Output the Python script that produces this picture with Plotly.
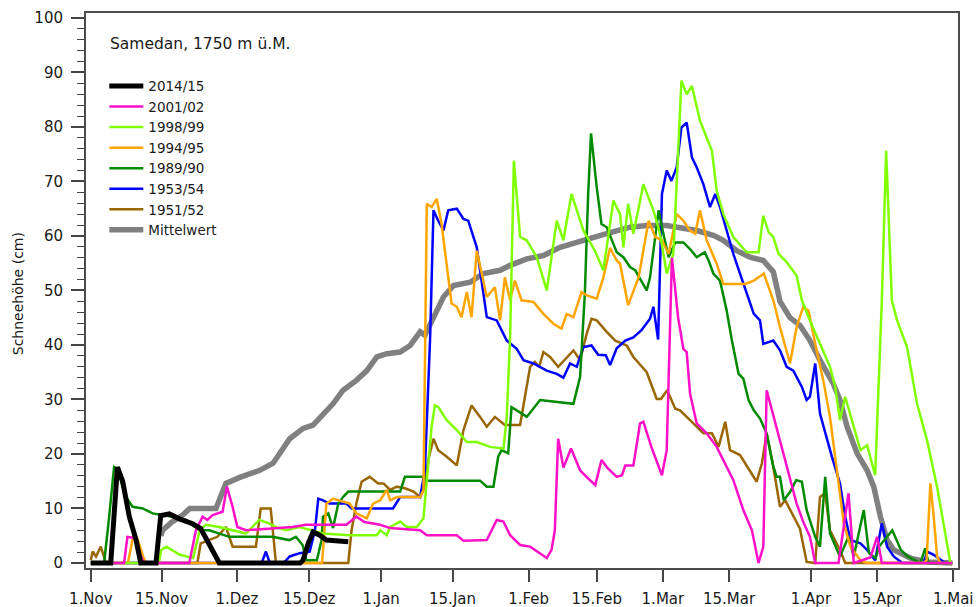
import plotly.graph_objects as go

# x positions are days since 1 November
tick_days = [0, 14.9, 30.7, 45.9, 61.0, 76.0, 92.0, 106.3, 120.2, 134.1, 151.3, 165.2, 181.2]
tick_labels = ["1.Nov", "15.Nov", "1.Dez", "15.Dez", "1.Jan", "15.Jan", "1.Feb",
               "15.Feb", "1.Mar", "15.Mar", "1.Apr", "15.Apr", "1.Mai"]

mittelwert = [(14.7, 5.0), (15.1, 6), (17, 7.5), (19.3, 8.8), (20.8, 10),
              (26.3, 10), (28.4, 14.6), (31.3, 15.7), (35.5, 17), (38.3, 18.3), (41.8, 22.8),
              (44.6, 24.7), (46.7, 25.3), (48.8, 27.4), (50.9, 29.2), (53.0, 31.7), (55.8, 33.5),
              (58.0, 35.3), (60.1, 37.8), (62.2, 38.4), (65.0, 38.7), (67.1, 39.9), (69.2, 42.4),
              (70.2, 41.8), (72.0, 45.1), (74.1, 48.8), (76.2, 50.9), (79.7, 51.5), (82.5, 53.1),
              (86.0, 53.7), (88.1, 54.6), (91.6, 55.8), (95.1, 56.4), (98.6, 57.9), (102.1, 58.8),
              (105.6, 59.8), (109.1, 60.6), (113.3, 61.6), (116.8, 61.9), (121.0, 61.9),
              (123.8, 61.6), (127.3, 61.0), (130.8, 60.1), (132.9, 59.2), (135.7, 57.3),
              (138.5, 56.1), (141.3, 55.5), (143.4, 53.4), (144.8, 48.0), (146.9, 45.0),
              (149.0, 43.6), (151.1, 40.8), (153.2, 37.2), (156.0, 32.9), (157.4, 29.9),
              (158.9, 25.0), (161.0, 20.1), (163.1, 17.0), (164.5, 14.0), (165.9, 8.5),
              (167.3, 4.2), (168.7, 2.4), (172.2, 0.9), (175.7, 0.2), (181, 0)]

s2014_15 = [(0, 0), (4.2, 0), (5.6, 17.6), (6.7, 15.0), (8.1, 8.5), (9.5, 4.3), (10.5, 0), (13.7, 0),
            (14.7, 8.7), (16.5, 9.0), (18.6, 8.1), (21.4, 7.2), (23.1, 6.3), (24.9, 3.3), (27.0, 0),
            (44.0, 0), (44.6, 0.5), (45.7, 3.6), (46.7, 5.7), (48.1, 5.1), (49.5, 4.2), (54.1, 3.9)]

s2001_02 = [(0, 0), (7.0, 0), (7.7, 4.8), (9.1, 4.6), (10.2, 1.8), (11.2, 0), (20.7, 0), (22.1, 6.0),
            (23.5, 8.5), (24.5, 7.9), (25.6, 8.8), (27.7, 9.4), (28.6, 14.0), (29.8, 10.3), (30.8, 6.6),
            (32.6, 6.0), (42.4, 6.6), (45.2, 7.0), (53.7, 7.0), (55.8, 8.5), (57.5, 7.5), (60.8, 7.0),
            (62.9, 6.4), (69.2, 6.0), (70.6, 5.1), (76.9, 5.1), (78.3, 4.1), (83.2, 4.2), (85.3, 7.9),
            (86.7, 7.6), (88.1, 5.1), (90.2, 3.3), (92.3, 3.0), (93.7, 2.1), (95.8, 0.9), (96.8, 2.4),
            (97.5, 6.0), (98.2, 22.8), (99.3, 17.5), (100.9, 21.0), (102.8, 17.0), (104.5, 15.5),
            (106.0, 14.3), (107.3, 18.9), (108.5, 17.5), (110.5, 15.8), (111.6, 16.1), (112.3, 17.9),
            (114.0, 17.9), (115.4, 25.6), (116.1, 25.9), (117.9, 21.0), (120.0, 16.1), (121.0, 20.7),
            (122.1, 56.0), (123.4, 45.0), (124.5, 39.3), (125.2, 38.7), (125.9, 31.1), (127.3, 25.6),
            (129.4, 23.8), (131.5, 21.3), (133.6, 17.6), (135.0, 15.2), (137.1, 9.7), (138.9, 6.0),
            (140.3, 0), (141.3, 3.0), (142.0, 31.7), (143.1, 28.0), (144.1, 25.0), (146.2, 17.6),
            (148.3, 10.9), (149.7, 7.5), (151.1, 4.8), (152.2, 0), (157.1, 0), (159.2, 12.8),
            (160.3, 0), (163.8, 1.0), (165.2, 4.8), (166.2, 0), (181, 0)]

s1998_99 = [(0, 0), (14.3, 0), (14.8, 2.4), (15.9, 3.0), (18.7, 1.5), (21.5, 0.9), (22.9, 6.0),
            (24.2, 7.0), (27.0, 6.6), (29.8, 6.0), (32.6, 5.4), (35.4, 7.9), (37.3, 7.3), (38.9, 6.6),
            (41.0, 6.0), (43.8, 6.6), (48.8, 5.4), (54.4, 5.1), (60.1, 5.1), (60.8, 6.0), (62.2, 5.1),
            (62.9, 6.6), (65.0, 7.6), (66.4, 6.6), (68.5, 6.6), (69.9, 8.2), (70.6, 14.6), (71.6, 25.0),
            (72.3, 28.9), (73.0, 28.6), (74.8, 26.2), (76.9, 24.4), (79.0, 22.2), (81.1, 22.2),
            (83.9, 21.3), (86.7, 21.0), (87.4, 26.8), (88.1, 41.4), (88.9, 73.8), (90.2, 59.8),
            (91.6, 59.2), (93.7, 56.1), (95.8, 50.0), (97.9, 62.8), (99.3, 59.2), (101.0, 67.7),
            (103.5, 61.0), (105.9, 57.3), (107.7, 53.7), (109.8, 66.5), (111.2, 64.0), (111.9, 57.9),
            (112.9, 65.9), (114.0, 60.4), (116.1, 69.5), (118.2, 64.7), (119.6, 60.4), (121.0, 53.1),
            (122.4, 56.7), (123.1, 68.9), (124.1, 88.5), (125.2, 86.0), (126.3, 87.5), (128.0, 81.1),
            (129.4, 78.1), (130.5, 75.6), (131.5, 68.3), (132.9, 64.0), (135.0, 59.8), (137.8, 57.0),
            (140.3, 57.0), (141.3, 63.7), (142.4, 60.7), (143.4, 59.8), (144.5, 56.7), (146.2, 55.2),
            (148.3, 52.7), (149.4, 48.2), (151.1, 44.5), (153.2, 40.2), (155.3, 36.0), (156.4, 32.3),
            (157.4, 26.2), (158.5, 30.5), (159.9, 26.2), (161.7, 20.7), (163.1, 21.6), (164.8, 16.1),
            (166.2, 48.2), (167.1, 75.6), (168.3, 48.2), (169.4, 44.5), (171.5, 39.6), (173.6, 29.2),
            (175.7, 22.5), (177.8, 14.0), (180.6, 0), (181, 0)]

s1994_95 = [(0, 0), (7.8, 0), (8.9, 4.8), (9.9, 4.2), (11.0, 1.2), (11.6, 0), (48.6, 0), (49.5, 10.9),
            (50.9, 11.8), (54.4, 10.9), (55.8, 9.1), (58.0, 8.2), (59.3, 10.9), (60.8, 11.5),
            (62.2, 13.4), (62.9, 11.5), (64.3, 12.1), (69.2, 12.1), (69.9, 13.4), (70.6, 65.9),
            (71.6, 65.3), (72.7, 66.8), (73.7, 62.2), (74.8, 54.9), (75.8, 47.6), (76.9, 47.0),
            (77.9, 45.1), (79.0, 49.7), (80.0, 45.1), (81.1, 57.3), (83.2, 48.8), (84.9, 50.6),
            (86.0, 44.5), (87.0, 52.4), (88.1, 48.2), (89.1, 51.8), (90.5, 48.2), (93.0, 47.9),
            (95.1, 45.7), (97.2, 43.9), (98.9, 43.0), (100.0, 45.7), (101.4, 45.1), (103.1, 49.7),
            (104.2, 49.1), (106.3, 48.5), (107.7, 52.4), (109.1, 57.8), (110.5, 55.5), (111.2, 54.9),
            (112.9, 47.3), (115.1, 52.4), (117.2, 62.8), (118.6, 59.8), (120.0, 59.2), (121.4, 56.7),
            (123.1, 64.0), (124.5, 62.8), (125.9, 61.0), (127.0, 60.4), (128.0, 64.7), (129.4, 59.2),
            (131.5, 54.9), (132.9, 51.2), (137.5, 51.2), (139.3, 51.8), (141.4, 53.1), (143.4, 48.2),
            (144.8, 43.3), (146.9, 36.6), (148.3, 43.3), (149.7, 47.0), (150.8, 46.3), (152.2, 40.2),
            (153.9, 33.5), (155.3, 26.8), (156.7, 17.6), (158.2, 7.3), (159.6, 3.0), (161.7, 0.5),
            (163.0, 0), (175.0, 0), (175.6, 0.5), (176.4, 14.6), (177.1, 8.5), (177.8, 1.2),
            (178.5, 0), (181, 0)]

s1989_90 = [(0, 0), (2.8, 0), (3.8, 7.9), (4.9, 17.6), (5.5, 17.3), (7.4, 12.1), (8.8, 10.3),
            (10.9, 10.0), (13.0, 9.1), (15.1, 8.8), (17.2, 8.5), (20.0, 7.9), (22.8, 6.0), (24.9, 6.0),
            (27.0, 5.4), (29.1, 4.8), (38.2, 4.8), (41.7, 4.2), (43.1, 4.8), (44.5, 3.3), (45.3, 0.5),
            (47.5, 0.5), (48.5, 4.2), (48.8, 8.5), (49.9, 9.1), (50.9, 6.4), (52.0, 10.9), (53.0, 12.1),
            (54.1, 13.1), (65.0, 13.1), (66.0, 15.8), (69.9, 15.8), (70.6, 15.1), (81.8, 15.1),
            (83.2, 14.0), (84.6, 14.0), (85.6, 19.5), (86.3, 20.7), (87.7, 20.1), (88.4, 28.6),
            (89.5, 28.0), (91.6, 26.8), (94.4, 29.9), (101.4, 29.2), (102.8, 34.1), (103.8, 49.4),
            (104.5, 67.7), (105.1, 78.8), (106.3, 68.9), (107.3, 62.2), (108.4, 61.6), (110.5, 57.0),
            (111.9, 56.1), (113.3, 54.3), (114.4, 53.7), (116.8, 50.0), (117.5, 52.4), (118.6, 59.8),
            (119.3, 64.7), (120.0, 61.6), (121.4, 56.1), (122.8, 58.8), (124.5, 58.8), (125.9, 57.6),
            (127.3, 56.1), (129.0, 57.0), (129.8, 55.5), (130.8, 53.1), (132.2, 51.8), (133.6, 46.3),
            (134.7, 40.8), (136.1, 34.7), (137.1, 33.8), (138.2, 29.9), (139.3, 28.0), (140.6, 26.5),
            (142.0, 23.8), (143.3, 18.0), (144.1, 15.8), (144.8, 15.8), (145.6, 11.5), (146.9, 13.0),
            (148.2, 15.2), (149.4, 14.9), (150.4, 9.7), (152.2, 4.8), (153.2, 3.0), (154.3, 15.8),
            (155.3, 5.4), (157.4, 1.2), (159.2, 4.8), (160.3, 1.2), (162.4, 9.7), (163.5, 1.8),
            (164.9, 0.9), (165.6, 3.0), (168.4, 6.0), (170.2, 2.4), (171.6, 1.2), (174.3, 0),
            (175.3, 2.7), (176.0, 0), (181, 0)]

s1953_54 = [(0, 0), (35.9, 0), (36.8, 2.1), (37.6, 0), (40.5, 0), (41.8, 1.2), (43.9, 1.8), (46.0, 2.1),
            (47.1, 6.0), (47.8, 11.8), (48.8, 11.5), (50.2, 10.9), (53.7, 10.9), (54.8, 10.0),
            (63.5, 10.0), (65.0, 12.1), (69.2, 12.1), (70.2, 17.0), (71.3, 41.4), (72.0, 64.7),
            (73.0, 62.8), (74.1, 61.0), (75.1, 64.7), (76.9, 65.0), (78.3, 63.1), (79.3, 62.8),
            (81.1, 57.9), (82.1, 51.8), (83.2, 45.1), (85.3, 44.5), (87.4, 40.8), (89.5, 39.3),
            (90.9, 37.2), (93.0, 36.6), (95.8, 35.3), (97.9, 34.7), (99.3, 34.0), (100.7, 36.6),
            (102.1, 36.0), (103.5, 39.6), (105.2, 39.9), (106.6, 38.2), (108.2, 38.1), (109.1, 36.3),
            (110.5, 39.4), (112.3, 40.8), (114.0, 41.4), (115.7, 42.7), (117.5, 44.8), (118.2, 47.0),
            (119.2, 41.0), (120.0, 67.7), (121.0, 72.0), (122.0, 70.1), (123.1, 72.6), (124.1, 79.9),
            (125.2, 80.8), (126.3, 74.4), (127.3, 72.6), (128.7, 69.5), (130.1, 65.3), (131.2, 67.7),
            (132.2, 65.3), (133.6, 61.0), (135.0, 56.7), (136.4, 53.1), (137.8, 49.4), (139.3, 45.7),
            (140.6, 44.5), (141.3, 40.2), (143.4, 40.8), (144.8, 39.0), (146.2, 36.0), (147.6, 35.3),
            (149.4, 32.3), (150.4, 29.9), (151.1, 30.5), (152.2, 36.6), (153.2, 27.4), (154.3, 23.8),
            (155.7, 19.5), (157.4, 14.6), (158.5, 8.5), (159.6, 4.2), (161.7, 3.6), (163.1, 2.4),
            (164.8, 0.5), (166.2, 7.3), (167.3, 3.0), (168.7, 1.2), (170.5, 0), (175.0, 0),
            (175.7, 2.1), (177.1, 1.5), (178.8, 0.5), (179.5, 0), (181, 0)]

s1951_52 = [(0, 0.5), (0.4, 2.1), (1.1, 1.2), (2.1, 3.0), (3.2, 0), (22.4, 0), (23.1, 3.6), (24.9, 4.2),
            (26.6, 4.8), (28.4, 6.6), (29.8, 3.0), (34.7, 3.0), (35.7, 10.0), (37.8, 10.0), (38.9, 0),
            (54.1, 0), (54.8, 6.0), (55.8, 10.9), (56.9, 14.9), (58.6, 15.8), (60.4, 14.6), (61.5, 14.6),
            (62.9, 13.4), (64.3, 14.0), (66.0, 13.7), (67.8, 13.1), (69.2, 12.1), (70.2, 14.0),
            (70.9, 18.9), (72.0, 22.8), (73.0, 20.7), (74.8, 19.5), (76.9, 17.9), (78.3, 24.4),
            (80.0, 28.9), (81.8, 26.8), (83.2, 25.0), (84.9, 26.8), (87.0, 25.3), (90.2, 25.3),
            (91.2, 30.5), (92.3, 36.0), (93.3, 36.9), (94.2, 36.0), (95.1, 38.7), (96.5, 37.8),
            (98.2, 36.0), (100.0, 37.8), (101.4, 39.0), (102.8, 37.2), (104.2, 42.1), (105.2, 44.8),
            (106.3, 44.5), (108.4, 42.4), (110.2, 40.8), (112.6, 39.9), (114.0, 37.8), (116.8, 35.0),
            (118.9, 30.1), (119.8, 30.1), (121.1, 31.7), (122.8, 28.3), (123.8, 28.0), (125.9, 26.2),
            (128.7, 23.8), (130.5, 23.8), (131.9, 21.3), (133.3, 25.9), (134.3, 20.7), (136.4, 19.8),
            (138.5, 17.0), (139.9, 14.9), (141.0, 18.3), (142.0, 23.8), (143.2, 18.6), (144.8, 10.3),
            (145.9, 11.5), (147.6, 8.5), (149.0, 6.3), (150.4, 0.2), (152.2, 0), (153.2, 12.1),
            (154.3, 12.8), (155.3, 6.0), (157.4, 2.4), (158.5, 0), (181, 0)]

series = [
    ("Mittelwert", mittelwert, "#808080", 5.5),
    ("1951/52", s1951_52, "#996600", 2.5),
    ("1953/54", s1953_54, "#0000ff", 2.5),
    ("1989/90", s1989_90, "#008a00", 2.5),
    ("1994/95", s1994_95, "#ffa500", 2.5),
    ("1998/99", s1998_99, "#80ff00", 2.5),
    ("2001/02", s2001_02, "#ff10c8", 2.5),
    ("2014/15", s2014_15, "#000000", 5),
]

FONT = "DejaVu Sans"
TXT = "#1a1a1a"

fig = go.Figure()
for name, pts, color, w in series:
    fig.add_trace(go.Scatter(
        x=[p[0] for p in pts], y=[p[1] for p in pts], mode="lines", name=name,
        line=dict(color=color, width=w)))

fig.update_layout(
    width=977, height=607,
    margin=dict(l=86, r=19, t=13, b=39),
    paper_bgcolor="white", plot_bgcolor="white",
    font=dict(family=FONT, size=15, color=TXT),
    showlegend=True,
    legend=dict(traceorder="reversed", x=0.021, y=0.896, xanchor="left", yanchor="top",
                bgcolor="rgba(0,0,0,0)", borderwidth=0, font=dict(family=FONT, size=13.5, color=TXT),
                itemwidth=34),
    annotations=[
        dict(text="Samedan, 1750 m ü.M.", xref="paper", yref="paper", x=0.025, y=0.944,
             xanchor="left", yanchor="middle", showarrow=False,
             font=dict(family=FONT, size=15.5, color=TXT)),
        dict(text="Schneehöhe (cm)", xref="paper", yref="paper", x=-0.078, y=0.495,
             xanchor="center", yanchor="middle", textangle=-90, showarrow=False,
             font=dict(family=FONT, size=14, color=TXT)),
    ],
)

fig.update_xaxes(
    range=[-1.0, 182.2], tickmode="array", tickvals=tick_days, ticktext=tick_labels,
    ticks="outside", ticklen=12, tickwidth=1.5, tickcolor="#444", automargin=False,
    showline=True, linecolor="#4d4d4d", linewidth=2, mirror=True,
    showgrid=False, zeroline=False, ticklabelstandoff=4,
    tickfont=dict(family=FONT, size=15, color=TXT),
)
fig.update_yaxes(
    range=[-0.92, 100.9], tickmode="linear", tick0=0, dtick=10,
    ticks="outside", ticklen=13, tickwidth=1.5, tickcolor="#444", automargin=False,
    minor=dict(dtick=2, ticks="outside", ticklen=7, tickwidth=1, tickcolor="#444"),
    showline=True, linecolor="#4d4d4d", linewidth=2, mirror=True,
    showgrid=False, zeroline=False, ticklabelstandoff=5,
    tickfont=dict(family=FONT, size=15, color=TXT),
)

fig.write_html("out.html")
